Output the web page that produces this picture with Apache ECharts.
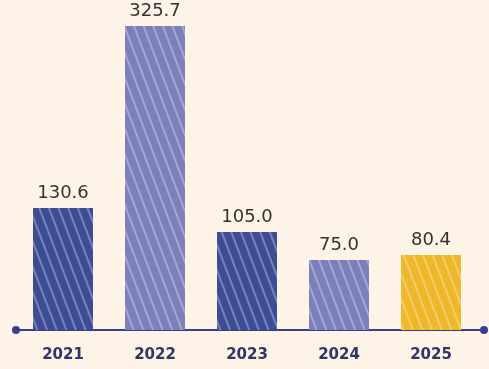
<!DOCTYPE html>
<html>
<head>
<meta charset="utf-8">
<style>
  html, body { margin: 0; padding: 0; background: #fdf4e7; }
  #chart { width: 489px; height: 369px; }
</style>
<script src="https://cdn.jsdelivr.net/npm/echarts@6/dist/echarts.min.js"></script>
</head>
<body>
<div id="chart"></div>
<script>
const years = ['2021', '2022', '2023', '2024', '2025']
const values = [130.6, 325.7, 105.0, 75.0, 80.4]
const barColors = ['#3e4c95', '#7b80bd', '#3e4c95', '#7b80bd', '#efb72a']

const chart = echarts.init(document.getElementById('chart'))

// white pencil-like streaks on the bars
const streaks = {
  symbol: 'rect',
  color: 'rgba(255, 255, 255, 0.3)',
  dashArrayX: [1, 0],
  dashArrayY: [2, 7],
  rotation: Math.PI / 2.6
}

const option = {
  backgroundColor: '#fdf4e7',
  animation: false,
  grid: [
    { left: 17, right: 12, top: 26, bottom: 39 },
    { left: 16, right: 5, top: 26, bottom: 39 }
  ],
  xAxis: [
    {
      type: 'category',
      gridIndex: 0,
      data: years,
      axisLine: { show: false },
      axisTick: { show: false },
      axisLabel: {
        color: '#2f3566',
        fontSize: 15,
        fontWeight: 'bold',
        fontFamily: 'DejaVu Sans',
        margin: 18
      }
    },
    {
      type: 'value',
      gridIndex: 1,
      min: 0,
      max: 1,
      axisLine: {
        show: true,
        symbol: ['circle', 'circle'],
        symbolSize: [8, 8],
        lineStyle: { color: '#3a3f8c', width: 2 }
      },
      axisTick: { show: false },
      axisLabel: { show: false },
      splitLine: { show: false }
    }
  ],
  yAxis: [
    {
      type: 'value',
      gridIndex: 0,
      min: 0,
      max: 325.7,
      show: false
    },
    {
      type: 'value',
      gridIndex: 1,
      show: false
    }
  ],
  series: [
    {
      type: 'bar',
      xAxisIndex: 0,
      yAxisIndex: 0,
      barWidth: 60,
      data: values.map((v, i) => ({
        value: v,
        itemStyle: { color: barColors[i], decal: streaks }
      })),
      label: {
        show: true,
        position: 'top',
        distance: 6,
        color: '#333333',
        fontSize: 18,
        fontFamily: 'DejaVu Sans',
        formatter: p => p.value.toFixed(1)
      }
    }
  ]
}

chart.setOption(option)
</script>
</body>
</html>
